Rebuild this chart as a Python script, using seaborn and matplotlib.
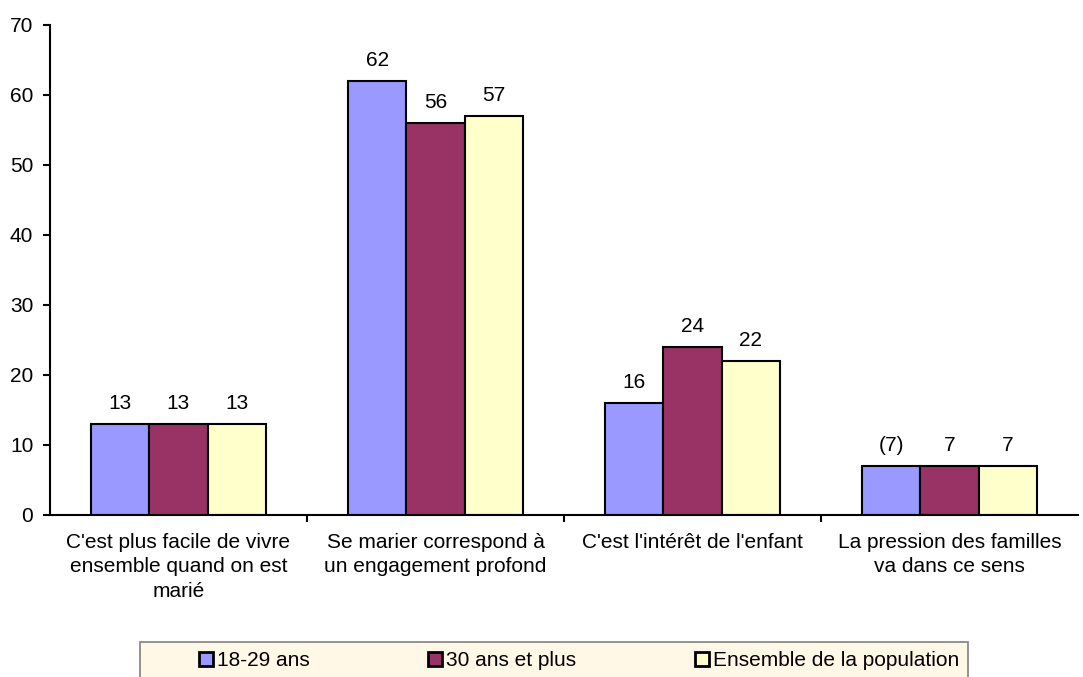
import matplotlib
matplotlib.use("Agg")
import matplotlib.pyplot as plt
import seaborn as sns
import pandas as pd
from matplotlib.patches import Patch, Rectangle

categories = [
    "C'est plus facile de vivre\nensemble quand on est\nmarié",
    "Se marier correspond à\nun engagement profond",
    "C'est l'intérêt de l'enfant",
    "La pression des familles\nva dans ce sens",
]
series = ["18-29 ans", "30 ans et plus", "Ensemble de la population"]
v_18_29 = [13, 62, 16, 7]
v_30_plus = [13, 56, 24, 7]
v_ensemble = [13, 57, 22, 7]
labels_18_29 = ["13", "62", "16", "(7)"]
labels_30_plus = ["13", "56", "24", "7"]
labels_ensemble = ["13", "57", "22", "7"]
colors = ["#9999FF", "#993366", "#FFFFCC"]

rows = []
for s, vals in zip(series, [v_18_29, v_30_plus, v_ensemble]):
    for c, v in zip(categories, vals):
        rows.append({"cat": c, "serie": s, "val": v})
df = pd.DataFrame(rows)

sns.set_theme(style="white")
plt.rcParams['font.family'] = ['Liberation Sans', 'DejaVu Sans']
plt.rcParams['text.color'] = 'black'
plt.rcParams['xtick.color'] = 'black'
plt.rcParams['ytick.color'] = 'black'

fig = plt.figure(figsize=(10.83, 6.77), dpi=100)
ax = fig.add_axes([50/1083, 1-515/677, (1078-50)/1083, (515-25)/677])
ax.patch.set_alpha(0)

sns.barplot(data=df, x="cat", y="val", hue="serie", palette=colors,
            width=0.68, edgecolor="black", linewidth=1.5, ax=ax,
            saturation=1, legend=False)

for cont, labs in zip(ax.containers, [labels_18_29, labels_30_plus, labels_ensemble]):
    ax.bar_label(cont, labels=labs, padding=8, fontsize=15, color='black')

ax.set_ylim(0, 70)
ax.set_xlim(-0.5, 3.5)
ax.set_yticks(range(0, 71, 10))
ax.set_xlabel("")
ax.set_ylabel("")
ax.tick_params(axis='y', labelsize=15, direction='out', length=5, width=1.5,
               left=True, color='black', pad=7)
ax.tick_params(axis='x', which='major', length=0, labelsize=15, pad=13)
ax.set_xticks([0.5, 1.5, 2.5], minor=True)
ax.tick_params(axis='x', which='minor', direction='out', length=5, width=1.5,
               bottom=True, color='black')
for lab in ax.get_xticklabels():
    lab.set_multialignment('center')
    lab.set_linespacing(1.35)
for sp in ["top", "right"]:
    ax.spines[sp].set_visible(False)
for sp in ["left", "bottom"]:
    ax.spines[sp].set_color("black")
    ax.spines[sp].set_linewidth(1.5)
ax.grid(False)

# legend box
W, H = 1083, 677
box = Rectangle((140/W, -0.05), (968-140)/W, 0.05 + (H-642)/H, transform=fig.transFigure,
                facecolor="#FFF8E6", edgecolor="#808080", linewidth=1.2, zorder=0)
fig.patches.append(box)

handle_x = [199, 428, 695]
for c, s, hx in zip(colors, series, handle_x):
    h = Patch(facecolor=c, edgecolor="black", linewidth=2)
    fig.legend([h], [s], loc="center left", bbox_to_anchor=(hx/W, 1-661/H),
               frameon=False, fontsize=15, handlelength=0.65, handleheight=0.65,
               handletextpad=0.2, borderpad=0, borderaxespad=0)

fig.savefig("out.png", dpi=100)
